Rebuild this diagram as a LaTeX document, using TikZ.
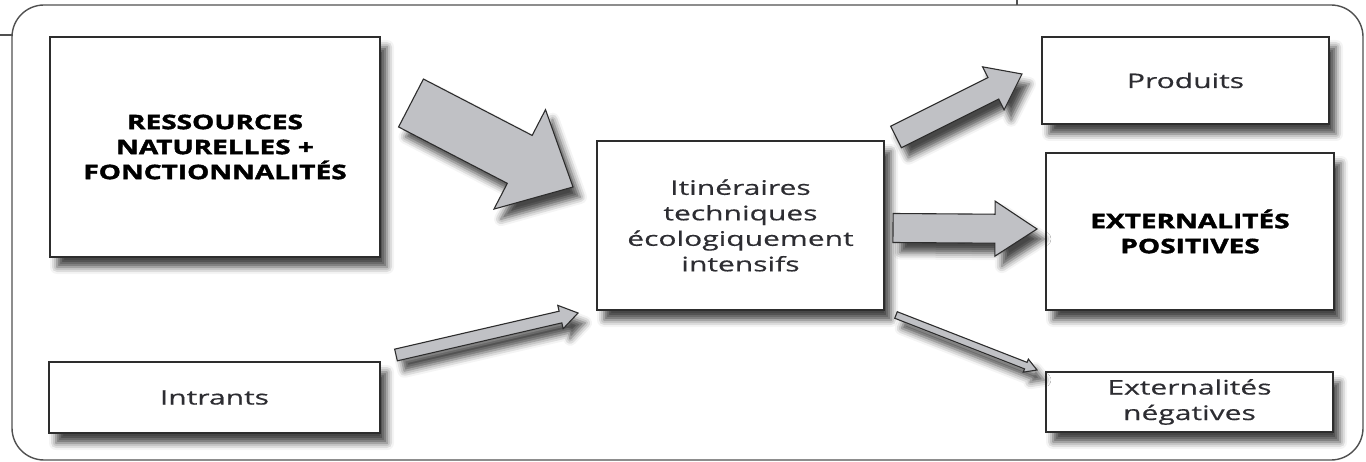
\documentclass[tikz,border=0pt]{standalone}
\usepackage{fontspec}
\setmainfont{Open Sans}
\newfontfamily\regf{Open Sans}[FakeStretch=1.5, FakeBold=0.5]
\newfontfamily\boldf{Open Sans}[FakeStretch=1.4, BoldFeatures={FakeBold=2}]
\usetikzlibrary{calc,shadows.blur}
\definecolor{framegray}{RGB}{80,80,80}
\definecolor{boxline}{RGB}{45,45,45}
\definecolor{arrowfill}{RGB}{192,193,197}
\definecolor{txt}{RGB}{45,45,50}
\tikzset{
  myshadow/.style={blur shadow={shadow xshift=7pt, shadow yshift=-10pt, shadow blur radius=7pt, shadow opacity=72}},
  box/.style={draw=boxline, line width=1.5pt, fill=white, rectangle, inner sep=0pt, align=center, text=txt, myshadow},
  regtxt/.style={font=\regf\fontsize{20}{25.5}\selectfont},
  boldtxt/.style={font=\boldf\fontsize{20}{25}\selectfont\bfseries, text=black},
  blockarr/.style={draw=boxline, line width=1.1pt, fill=arrowfill, line join=miter, myshadow},
}
\newcommand\blockarrow[5]{%
  \coordinate (hb) at ($(#2)!#5!(#1)$);
  \draw[blockarr] ($(#1)!#3!90:(#2)$) -- ($(hb)!#3!-90:(#1)$) -- ($(hb)!#4!-90:(#1)$) -- (#2)
     -- ($(hb)!#4!90:(#1)$) -- ($(hb)!#3!90:(#1)$) -- ($(#1)!#3!-90:(#2)$) -- cycle;
}
\begin{document}
\begin{tikzpicture}[x=1pt,y=-1pt]
\useasboundingbox (0,0) rectangle (1366,462);
% outer frame
\draw[framegray, line width=1.4pt, rounded corners=32pt] (12,5) rectangle (1363,460);
\draw[framegray, line width=1.2pt] (0,35) -- (12,35);
\draw[framegray, line width=1.2pt] (1017,0) -- (1017,5);
% boxes
\node[box, boldtxt, minimum width=330pt, minimum height=220pt] (res) at (215,147)
  {RESSOURCES\\NATURELLES +\\FONCTIONNALITÉS};
\node[box, regtxt, minimum width=331pt, minimum height=71pt] (intr) at (214.5,397.5) {\raisebox{-4pt}{Intrants}};
\node[box, regtxt, minimum width=287pt, minimum height=169pt] (itin) at (740.5,225.5)
  {Itinéraires\\techniques\\écologiquement\\intensifs};
\node[box, regtxt, minimum width=287pt, minimum height=87pt] (prod) at (1185.5,80.5) {Produits};
\node[box, boldtxt, minimum width=288pt, minimum height=157pt] (extpos) at (1190,231.5)
  {EXTERNALITÉS\\POSITIVES};
\node[box, regtxt, minimum width=287pt, minimum height=60pt] (extneg) at (1189.5,402)
  {Externalités\\négatives};
% arrow end points
\coordinate (a1s) at (411,103);  \coordinate (a1e) at (573,187);
\coordinate (a2s) at (896,137);  \coordinate (a2e) at (1022,74);
\coordinate (a3s) at (893,228);  \coordinate (a3e) at (1037,229);
\coordinate (a4s) at (396,355);  \coordinate (a4e) at (578,313);
\coordinate (a5s) at (896,315);  \coordinate (a5e) at (1037,370);
\blockarrow{a1s}{a1e}{27pt}{56pt}{60pt}
\blockarrow{a2s}{a2e}{12pt}{24pt}{32pt}
\blockarrow{a3s}{a3e}{14.5pt}{27.5pt}{42pt}
\blockarrow{a4s}{a4e}{6pt}{12pt}{18pt}
\blockarrow{a5s}{a5e}{3.5pt}{7pt}{12pt}
\end{tikzpicture}
\end{document}
